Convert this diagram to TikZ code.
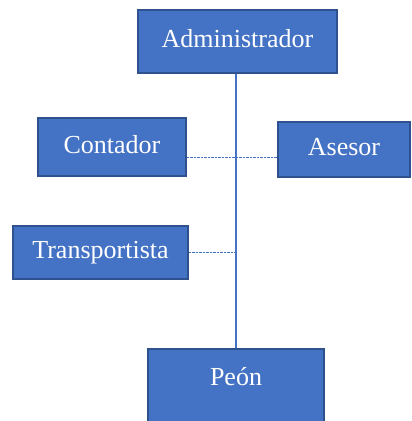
\documentclass[tikz,border=0pt]{standalone}
\usepackage{fontspec}
\setmainfont{Liberation Serif}

\definecolor{boxblue}{HTML}{4472C4}
\definecolor{boxedge}{HTML}{2F528F}

\begin{document}
\begin{tikzpicture}[x=1pt, y=-1pt,
			cargo/.style={
				rectangle,
				draw = boxedge,
				line width = 1.5pt,
				fill = boxblue,
				text = white,
				inner sep = 0pt,
				text height = 18pt,
				text depth = 6pt,
				font = \fontsize{26}{30}\selectfont},
			linea/.style={boxblue, line width = 1.6pt},
			guion/.style={boxblue, line width = 0.8pt, dash pattern = on 2.5pt off 1pt}]
			\useasboundingbox (0, 0) rectangle (412, 421);
			\node (admin) at (237.5, 41.5) [cargo, minimum width = 199pt, minimum height = 63pt] {Administrador};
			\node (contador) at (112, 147) [cargo, minimum width = 148pt, minimum height = 58pt] {Contador};
			\node (asesor) at (344, 149.5) [cargo, minimum width = 132pt, minimum height = 55pt] {Asesor};
			\node (transp) at (100.5, 252.5) [cargo, minimum width = 175pt, minimum height = 53pt] {Transportista};
			\node (peon) at (236, 348) [cargo, anchor = north, minimum width = 176pt,
				text height = 37pt, text depth = 42pt] {Peón};
			\coordinate (cruce) at ([yshift = -10pt]contador.east);
			\draw[linea] (peon.north |- admin.south) -- (peon.north);
			\draw[guion] (cruce) -- (asesor.west |- cruce);
			\draw[guion] (transp.east) -- (peon.north |- transp.east);
			\end{tikzpicture}
\end{document}
